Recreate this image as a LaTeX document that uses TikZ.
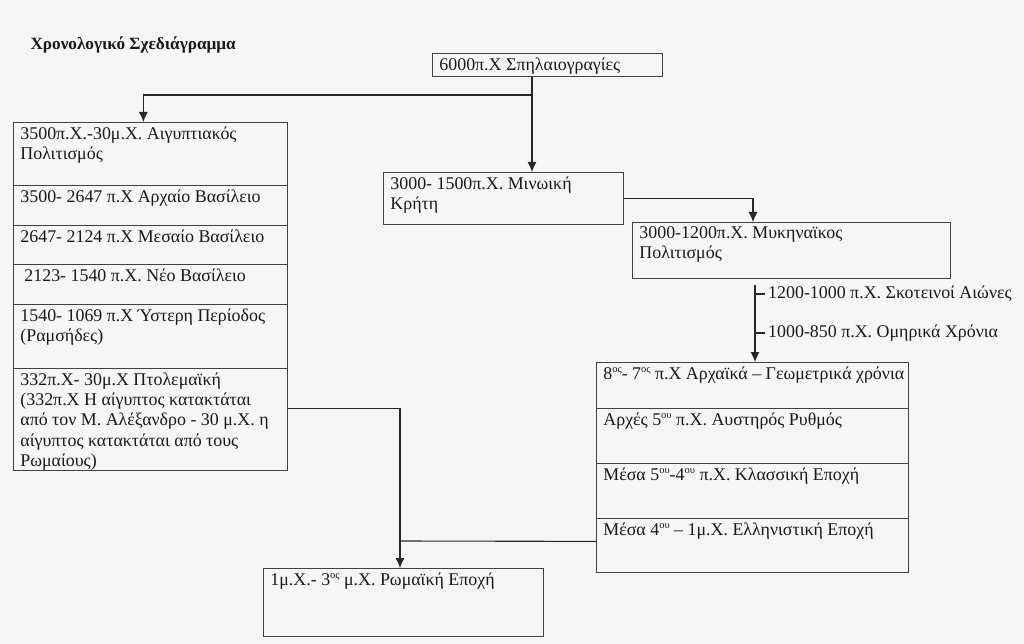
\documentclass[tikz,border=0pt]{standalone}
\usepackage{fontspec}
\setmainfont{Liberation Serif}
\usetikzlibrary{arrows.meta}
\newcommand{\cellfont}{\fontsize{17.9}{20.4}\selectfont}
\newcommand{\cellbox}[3]{\parbox[t][#2pt][t]{#1pt}{\cellfont\raggedright #3}}
\newcommand{\sups}[1]{\raisebox{0.38em}{\fontsize{10.5}{11}\selectfont #1}}

\begin{document}
\begin{tikzpicture}[x=1pt, y=-1pt,
  cell/.style={draw=black!75, line width=0.8pt, anchor=north west, inner xsep=7pt, inner ysep=4pt, text=black!90},
  note/.style={anchor=west, inner sep=3pt, font=\cellfont, text=black!90},
  link/.style={draw=black!85, line width=1.1pt},
  arr/.style={link, -{Latex[length=10pt,width=9pt]}}]
\fill[gray!7] (0,0) rectangle (1024,644);
\useasboundingbox (0,0) rectangle (1024,644);

\node[anchor=west, font=\bfseries\fontsize{17.2}{20}\selectfont, text=black!90] (title) at (27,45) {Χρονολογικό Σχεδιάγραμμα};

\node[cell] (cave) at (432,53) {\cellbox{216}{15}{6000π.Χ Σπηλαιογραγίες}};

\node[cell] (egypt) at (13,122) {\cellbox{260}{55}{3500π.Χ.-30μ.Χ. Αιγυπτιακός\\Πολιτισμός}};
\node[cell] (oldk) at (13,185) {\cellbox{260}{32}{3500- 2647 π.Χ Αρχαίο Βασίλειο}};
\node[cell] (midk) at (13,225) {\cellbox{260}{31}{2647- 2124 π.Χ Μεσαίο Βασίλειο}};
\node[cell] (newk) at (13,264) {\cellbox{260}{32}{\hspace*{4pt}2123- 1540 π.Χ. Νέο Βασίλειο}};
\node[cell] (late) at (13,304) {\cellbox{260}{56}{1540- 1069 π.Χ Ύστερη Περίοδος\\(Ραμσήδες)}};
\node[cell] (ptol) at (13,368) {\cellbox{260}{94}{332π.Χ- 30μ.Χ Πτολεμαϊκή\\(332π.Χ Η αίγυπτος κατακτάται\\από τον Μ. Αλέξανδρο - 30 μ.Χ. η\\αίγυπτος κατακτάται από τους\\Ρωμαίους)}};

\node[cell] (minoan) at (383,172) {\cellbox{226}{44}{3000- 1500π.Χ. Μινωική\\Κρήτη}};
\node[cell] (myc) at (632,222) {\cellbox{304}{48}{3000-1200π.Χ. Μυκηναϊκος\\Πολιτισμός}};

\node[note] (dark) at (765,294) {1200-1000 π.Χ. Σκοτεινοί Αιώνες};
\node[note] (homer) at (765,333) {1000-850 π.Χ. Ομηρικά Χρόνια};

\node[cell] (archaic) at (596,362) {\cellbox{298}{38}{\mbox{8\sups{ος}- 7\sups{ος} π.Χ Αρχαϊκά – Γεωμετρικά χρόνια}}};
\node[cell] (strict) at (596,408) {\cellbox{298}{47}{Αρχές 5\sups{ου} π.Χ. Αυστηρός Ρυθμός}};
\node[cell] (classic) at (596,463) {\cellbox{298}{47}{Μέσα 5\sups{ου}-4\sups{ου} π.Χ. Κλασσική Εποχή}};
\node[cell] (hellen) at (596,518) {\cellbox{298}{46}{Μέσα 4\sups{ου} – 1μ.Χ. Ελληνιστική Εποχή}};

\node[cell] (roman) at (263,568) {\cellbox{266}{60}{1μ.Χ.- 3\sups{ος} μ.Χ. Ρωμαϊκή Εποχή}};

\coordinate (fork) at (532,95);
\coordinate (drop) at (755,285);
\coordinate (join) at (400,541);

\draw[link] (cave.south -| fork) -- (fork);
\draw[arr] (fork) -- (minoan.north -| fork);
\draw[arr] (fork) -| ([xshift=-7pt]egypt.north);
\draw[arr] (minoan.east) -| ([xshift=121pt]myc.north west);
\draw[arr] (drop) -- (drop |- archaic.north);
\draw[link] (drop |- dark.west) -- (dark.west);
\draw[link] (drop |- homer.west) -- (homer.west);
\draw[arr] ([yshift=11pt]ptol.east) -| (join |- roman.north);
\draw[link] ([yshift=4pt]hellen.west) -- (join);
\end{tikzpicture}
\end{document}
